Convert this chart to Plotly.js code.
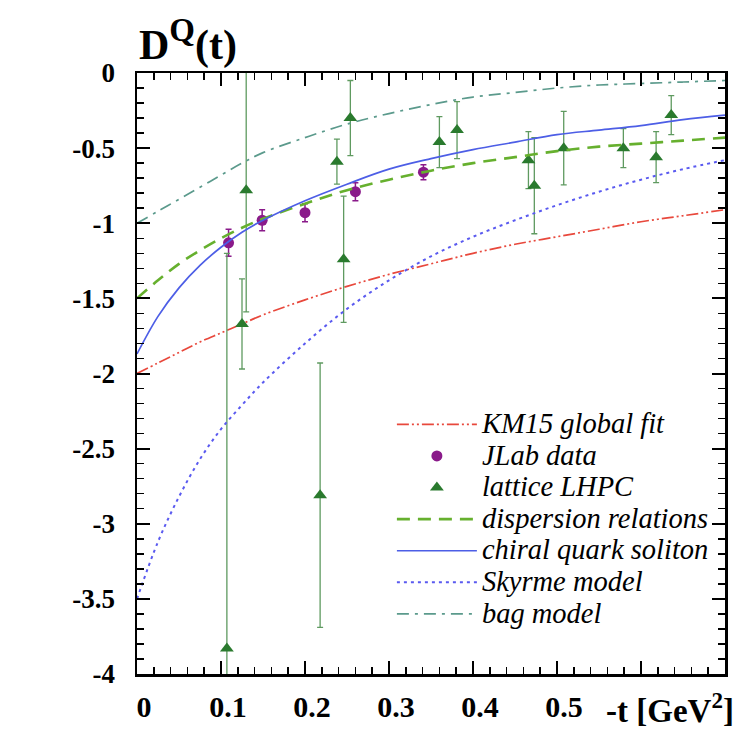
<!DOCTYPE html>
<html>
<head>
<meta charset="utf-8">
<script src="https://cdn.plot.ly/plotly-3.0.1.min.js"></script>
<style>html,body{margin:0;padding:0;background:#fff;}#chart{width:744px;height:729px;}</style>
</head>
<body>
<div id="chart"></div>
<script>
// -t values (GeV^2) at which the model curves were read
var curveT = [0, 0.025, 0.05, 0.075, 0.1, 0.125, 0.15, 0.2, 0.25, 0.3, 0.35, 0.4, 0.45, 0.5, 0.55, 0.6, 0.65, 0.7];
var km15 = [-2.00, -1.93, -1.86, -1.79, -1.73, -1.67, -1.61, -1.51, -1.42, -1.34, -1.27, -1.20, -1.14, -1.09, -1.04, -0.99, -0.95, -0.91];
var dispersion = [-1.50, -1.38, -1.27, -1.18, -1.10, -1.03, -0.97, -0.87, -0.78, -0.71, -0.65, -0.60, -0.56, -0.52, -0.49, -0.47, -0.45, -0.43];
var chiral = [-1.87, -1.62, -1.43, -1.28, -1.16, -1.06, -0.98, -0.85, -0.74, -0.64, -0.57, -0.51, -0.46, -0.41, -0.38, -0.35, -0.31, -0.28];
var skyrme = [-3.50, -3.12, -2.82, -2.57, -2.37, -2.21, -2.06, -1.80, -1.57, -1.38, -1.22, -1.09, -0.98, -0.88, -0.79, -0.71, -0.64, -0.58];
var bag = [-1.00, -0.92, -0.84, -0.76, -0.68, -0.60, -0.53, -0.43, -0.34, -0.27, -0.21, -0.16, -0.13, -0.10, -0.08, -0.07, -0.06, -0.05];

// JLab data
var jlabT = [0.109, 0.149, 0.200, 0.260, 0.341];
var jlabD = [-1.13, -0.98, -0.93, -0.79, -0.66];
var jlabErr = [0.09, 0.07, 0.06, 0.06, 0.05];

// lattice LHPC
var latT = [0.107, 0.125, 0.130, 0.218, 0.238, 0.246, 0.254, 0.360, 0.381, 0.466, 0.473, 0.508, 0.579, 0.618, 0.636];
var latD = [-3.83, -1.67, -0.78, -2.81, -0.59, -1.24, -0.30, -0.46, -0.38, -0.58, -0.75, -0.50, -0.50, -0.56, -0.28];
var latErr = [2.63, 0.30, 0.81, 0.88, 0.15, 0.42, 0.25, 0.17, 0.19, 0.19, 0.32, 0.245, 0.13, 0.17, 0.13];

var seriesNames = ['KM15 global fit', 'JLab data', 'lattice LHPC', 'dispersion relations',
                   'chiral quark soliton', 'Skyrme model', 'bag model'];

var xTickVals = [0, 0.1, 0.2, 0.3, 0.4, 0.5];
var xTickText = ['0', '0.1', '0.2', '0.3', '0.4', '0.5'];
var xExtraMajor = [0.6];
var yTickVals = [0, -0.5, -1, -1.5, -2, -2.5, -3, -3.5, -4];
var yTickText = ['0', '-0.5', '-1', '-1.5', '-2', '-2.5', '-3', '-3.5', '-4'];

var serif = 'Liberation Serif';

// legend labels drawn a little larger than the legend row pitch would normally allow
function legName(s) { return '<span style="font-size:28.5px">' + s + '</span>'; }

var traces = [
  {x: curveT, y: km15, mode: 'lines', name: legName(seriesNames[0]),
   line: {color: '#e8483c', width: 1.7, dash: '12px,3px,2px,3px,2px,3px', shape: 'spline'}},
  {x: jlabT, y: jlabD, mode: 'markers', name: legName(seriesNames[1]),
   marker: {symbol: 'circle', size: 11, color: '#8a1a8a'},
   error_y: {type: 'data', array: jlabErr, visible: true, color: '#8a1a8a', thickness: 1.5, width: 3}},
  {x: latT, y: latD, mode: 'markers', name: legName(seriesNames[2]),
   marker: {symbol: 'triangle-up', size: 12, color: '#2a7a2e'},
   error_y: {type: 'data', array: latErr, visible: true, color: '#5f9a60', thickness: 1.3, width: 3}},
  {x: curveT, y: dispersion, mode: 'lines', name: legName(seriesNames[3]),
   line: {color: '#66b02e', width: 2.6, dash: '13px,8px', shape: 'spline'}},
  {x: curveT, y: chiral, mode: 'lines', name: legName(seriesNames[4]),
   line: {color: '#4d5ee6', width: 1.7, shape: 'spline'}},
  {x: curveT, y: skyrme, mode: 'lines', name: legName(seriesNames[5]),
   line: {color: '#5a5af0', width: 2, dash: '3px,4px', shape: 'spline'}},
  {x: curveT, y: bag, mode: 'lines', name: legName(seriesNames[6]),
   line: {color: '#5b9a8c', width: 1.7, dash: '12px,6px,3px,6px', shape: 'spline'}}
];

var axisCommon = {
  showline: true, linecolor: '#000', linewidth: 2.5, mirror: 'allticks',
  ticks: 'inside', ticklen: 13, tickwidth: 2, tickcolor: '#000',
  showgrid: false, zeroline: false, tickmode: 'array'
};

// the 0.6 major tick (unlabelled) on bottom and top edges
var extraShapes = [];
xExtraMajor.forEach(function (v) {
  extraShapes.push({type: 'line', xref: 'x', yref: 'paper', x0: v, x1: v, y0: 0, y1: 0.0216,
                    line: {color: '#000', width: 2}});
  extraShapes.push({type: 'line', xref: 'x', yref: 'paper', x0: v, x1: v, y0: 1, y1: 0.9784,
                    line: {color: '#000', width: 2}});
});

var layout = {
  width: 744, height: 729,
  margin: {l: 137, r: 19, t: 73, b: 55},
  paper_bgcolor: '#fff', plot_bgcolor: '#fff',
  showlegend: true,
  xaxis: Object.assign({}, axisCommon, {
    range: [0, 0.7], tickvals: xTickVals, ticktext: xTickText,
    tickfont: {family: serif, size: 30, weight: 'bold', color: '#000'},
    ticklabelstandoff: 4, ticklabelshift: 7,
    minor: {dtick: 0.02, tick0: 0, ticks: 'inside', ticklen: 7, tickwidth: 1.5, tickcolor: '#000'}
  }),
  yaxis: Object.assign({}, axisCommon, {
    range: [-4, 0], tickvals: yTickVals, ticktext: yTickText,
    tickfont: {family: serif, size: 27, weight: 'bold', color: '#000'},
    ticklabelstandoff: 14,
    minor: {dtick: 0.1, tick0: 0, ticks: 'inside', ticklen: 7, tickwidth: 1.5, tickcolor: '#000'}
  }),
  legend: {
    x: 0.4335, xanchor: 'left', y: 0.45, yanchor: 'top',
    bgcolor: 'rgba(0,0,0,0)', borderwidth: 0,
    font: {family: serif, size: 22, style: 'italic', color: '#000'},
    itemwidth: 80
  },
  shapes: extraShapes,
  annotations: [
    {text: 'D<sup><span style="font-size:33px">Q</span></sup>(t)', xref: 'paper', yref: 'paper', x: 0, y: 1.003,
     xanchor: 'left', yanchor: 'bottom', showarrow: false,
     font: {family: serif, size: 42, weight: 'bold', color: '#000'}},
    {text: '-t [GeV<sup>2</sup>]', xref: 'paper', yref: 'paper', x: 0.795, y: -0.056,
     xanchor: 'left', yanchor: 'middle', showarrow: false,
     font: {family: serif, size: 33, weight: 'bold', color: '#000'}}
  ]
};

Plotly.newPlot('chart', traces, layout, {displayModeBar: false, staticPlot: true});
</script>
</body>
</html>
